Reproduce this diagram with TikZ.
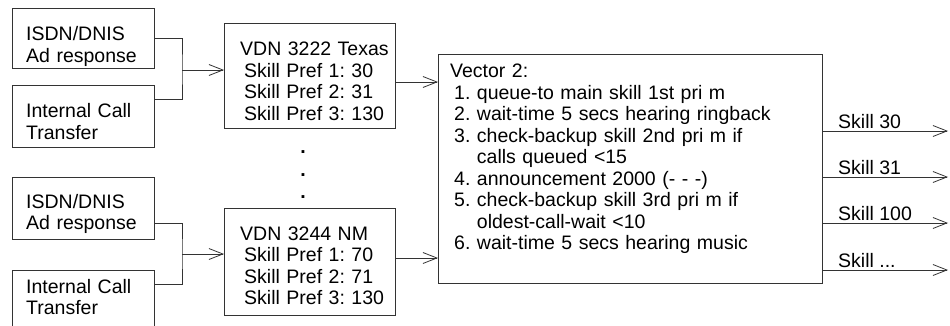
\documentclass[tikz,border=0pt]{standalone}
\usepackage{fontspec}
\setmainfont{Liberation Sans}
\usetikzlibrary{arrows.meta}
\frenchspacing
\newcommand{\diafont}{\fontsize{19.5pt}{21.5pt}\selectfont}
\newcommand{\ind}{\hspace*{4pt}}
\tikzset{
	box/.style={draw=black!80,line width=0.8pt,inner sep=0pt,anchor=north west},
	txt/.style={anchor=base west,inner sep=0pt,text width=360pt,align=left,font=\diafont},
	con/.style={draw=black!80,line width=0.8pt},
	arr/.style={con,-{Straight Barb[length=14pt,width=11pt]}},
}
\begin{document}
\begin{tikzpicture}[x=1pt,y=-1pt]
	\useasboundingbox (0,0) rectangle (950,326);
	% call sources
	\node[box,minimum width=142pt,minimum height=60pt](srcA)at(12,8){};
	\node[txt](srcAt)at(26,41){ISDN/DNIS\\Ad response};
	\node[box,minimum width=142pt,minimum height=62pt](intA)at(12,85){};
	\node[txt](intAt)at(26,118){Internal Call\\Transfer};
	\node[box,minimum width=142pt,minimum height=62pt](srcB)at(12,177){};
	\node[txt](srcBt)at(26,208){ISDN/DNIS\\Ad response};
	\node[box,minimum width=142pt,minimum height=62pt](intB)at(12,270){};
	\node[txt](intBt)at(26,293){Internal Call\\Transfer};
	% VDNs
	\node[box,minimum width=171pt,minimum height=105pt](vdnA)at(224,23){};
	\node[txt](vdnAt)at(240,56){VDN 3222 Texas\\\ind Skill Pref 1: 30\\\ind Skill Pref 2: 31\\\ind Skill Pref 3: 130};
	\node[box,minimum width=171pt,minimum height=107pt](vdnB)at(224,208){};
	\node[txt](vdnBt)at(240,240){VDN 3244 NM\\\ind Skill Pref 1: 70\\\ind Skill Pref 2: 71\\\ind Skill Pref 3: 130};
	\foreach \yy [count=\i] in {152,175,197}
		\node[font=\diafont\bfseries](dot\i)at(303,\yy){.};
	% vector
	\node[box,minimum width=384pt,minimum height=229pt](vec)at(438,54){};
	\node[txt](vect)at(450,78){Vector 2:\\
		\ind 1. queue-to main skill 1st pri m\\
		\ind 2. wait-time 5 secs hearing ringback\\
		\ind 3. check-backup skill 2nd pri m if\\
		\ind\phantom{3.~}calls queued <15\\
		\ind 4. announcement 2000 (- - -)\\
		\ind 5. check-backup skill 3rd pri m if\\
		\ind\phantom{5.~}oldest-call-wait <10\\
		\ind 6. wait-time 5 secs hearing music};
	% connectors
	\coordinate(jA)at(182,70);
	\coordinate(jB)at(182,254);
	\draw[con](srcA.east)-|(jA)|-([yshift=-14pt]intA.north east);
	\draw[arr](jA)--(jA-|vdnA.west);
	\draw[con]([yshift=16pt]srcB.south east)-|(jB)|-([yshift=-14pt]intB.north east);
	\draw[arr](jB)--(jB-|vdnB.west);
	\draw[arr]([yshift=-59pt]vdnA.north east)coordinate(vA)--(vA-|vec.west);
	\draw[arr]([yshift=-50pt]vdnB.north east)coordinate(vB)--(vB-|vec.west);
	% skills
	\foreach \yy/\lbl [count=\i] in {131/Skill 30,177/Skill 31,223/Skill 100,270/Skill {.}{.}{.}}{
		\coordinate(out\i)at(948,\yy);
		\draw[arr](vec.east|-out\i)--node[pos=0,anchor=south west,inner xsep=15pt,inner ysep=2pt,font=\diafont](skl\i){\lbl}(out\i);
	}
\end{tikzpicture}
\end{document}
